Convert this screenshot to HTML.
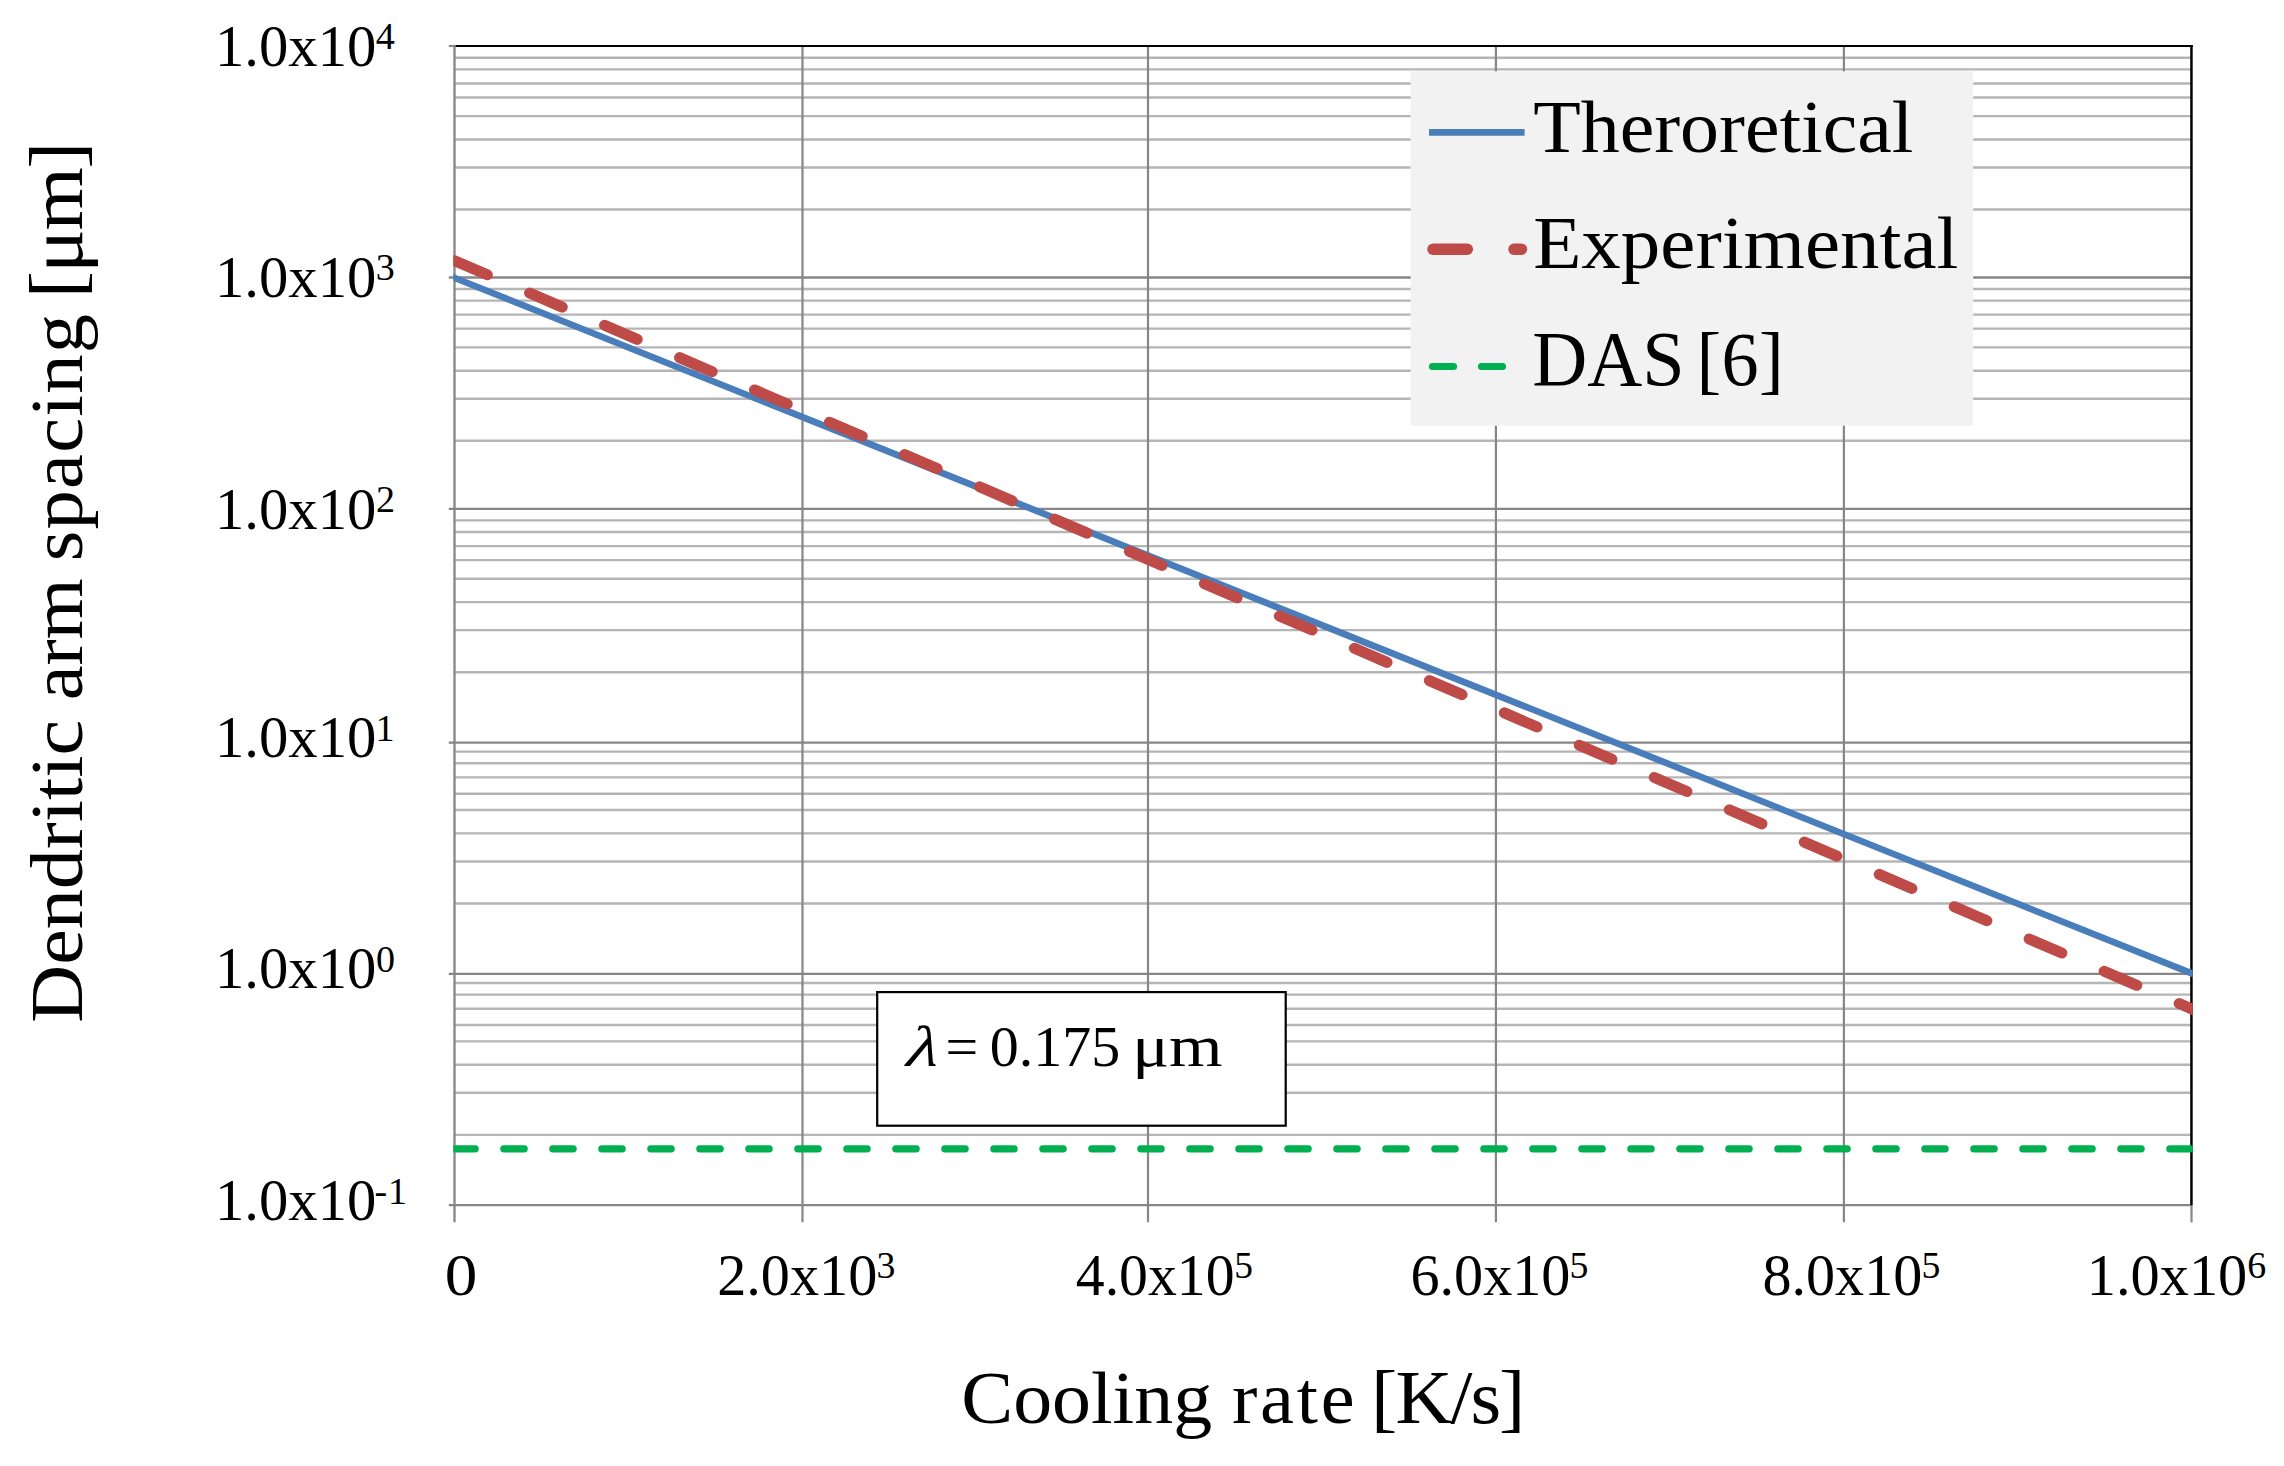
<!DOCTYPE html>
<html lang="en"><head><meta charset="utf-8"><title>Dendritic arm spacing vs cooling rate</title>
<style>
html,body{margin:0;padding:0;background:#fff}
svg{display:block}
text{font-family:'Liberation Serif',serif;fill:#000}
</style></head>
<body>
<svg width="2284" height="1466" viewBox="0 0 2284 1466">
<rect width="2284" height="1466" fill="#fff"/>
<defs><clipPath id="pc"><rect x="453.3" y="0" width="1739.50" height="1466"/></clipPath></defs>
<g id="grid" shape-rendering="auto">
<line x1="454.5" x2="2191.5" y1="57.73" y2="57.73" stroke="#b5b5b5" stroke-width="2.4"/>
<line x1="454.5" x2="2191.5" y1="69.41" y2="69.41" stroke="#b5b5b5" stroke-width="2.4"/>
<line x1="454.5" x2="2191.5" y1="83.43" y2="83.43" stroke="#b5b5b5" stroke-width="2.4"/>
<line x1="454.5" x2="2191.5" y1="97.44" y2="97.44" stroke="#b5b5b5" stroke-width="2.4"/>
<line x1="454.5" x2="2191.5" y1="116.13" y2="116.13" stroke="#b5b5b5" stroke-width="2.4"/>
<line x1="454.5" x2="2191.5" y1="139.49" y2="139.49" stroke="#b5b5b5" stroke-width="2.4"/>
<line x1="454.5" x2="2191.5" y1="167.52" y2="167.52" stroke="#b5b5b5" stroke-width="2.4"/>
<line x1="454.5" x2="2191.5" y1="209.57" y2="209.57" stroke="#b5b5b5" stroke-width="2.4"/>
<line x1="454.5" x2="2191.5" y1="288.93" y2="288.93" stroke="#b5b5b5" stroke-width="2.4"/>
<line x1="454.5" x2="2191.5" y1="300.61" y2="300.61" stroke="#b5b5b5" stroke-width="2.4"/>
<line x1="454.5" x2="2191.5" y1="314.63" y2="314.63" stroke="#b5b5b5" stroke-width="2.4"/>
<line x1="454.5" x2="2191.5" y1="328.64" y2="328.64" stroke="#b5b5b5" stroke-width="2.4"/>
<line x1="454.5" x2="2191.5" y1="347.33" y2="347.33" stroke="#b5b5b5" stroke-width="2.4"/>
<line x1="454.5" x2="2191.5" y1="370.69" y2="370.69" stroke="#b5b5b5" stroke-width="2.4"/>
<line x1="454.5" x2="2191.5" y1="398.72" y2="398.72" stroke="#b5b5b5" stroke-width="2.4"/>
<line x1="454.5" x2="2191.5" y1="440.77" y2="440.77" stroke="#b5b5b5" stroke-width="2.4"/>
<line x1="454.5" x2="2191.5" y1="520.38" y2="520.38" stroke="#b5b5b5" stroke-width="2.4"/>
<line x1="454.5" x2="2191.5" y1="532.06" y2="532.06" stroke="#b5b5b5" stroke-width="2.4"/>
<line x1="454.5" x2="2191.5" y1="546.08" y2="546.08" stroke="#b5b5b5" stroke-width="2.4"/>
<line x1="454.5" x2="2191.5" y1="560.09" y2="560.09" stroke="#b5b5b5" stroke-width="2.4"/>
<line x1="454.5" x2="2191.5" y1="578.78" y2="578.78" stroke="#b5b5b5" stroke-width="2.4"/>
<line x1="454.5" x2="2191.5" y1="602.14" y2="602.14" stroke="#b5b5b5" stroke-width="2.4"/>
<line x1="454.5" x2="2191.5" y1="630.17" y2="630.17" stroke="#b5b5b5" stroke-width="2.4"/>
<line x1="454.5" x2="2191.5" y1="672.22" y2="672.22" stroke="#b5b5b5" stroke-width="2.4"/>
<line x1="454.5" x2="2191.5" y1="751.64" y2="751.64" stroke="#b5b5b5" stroke-width="2.4"/>
<line x1="454.5" x2="2191.5" y1="763.32" y2="763.32" stroke="#b5b5b5" stroke-width="2.4"/>
<line x1="454.5" x2="2191.5" y1="777.34" y2="777.34" stroke="#b5b5b5" stroke-width="2.4"/>
<line x1="454.5" x2="2191.5" y1="793.69" y2="793.69" stroke="#b5b5b5" stroke-width="2.4"/>
<line x1="454.5" x2="2191.5" y1="810.04" y2="810.04" stroke="#b5b5b5" stroke-width="2.4"/>
<line x1="454.5" x2="2191.5" y1="833.40" y2="833.40" stroke="#b5b5b5" stroke-width="2.4"/>
<line x1="454.5" x2="2191.5" y1="861.44" y2="861.44" stroke="#b5b5b5" stroke-width="2.4"/>
<line x1="454.5" x2="2191.5" y1="903.48" y2="903.48" stroke="#b5b5b5" stroke-width="2.4"/>
<line x1="454.5" x2="2191.5" y1="982.99" y2="982.99" stroke="#b5b5b5" stroke-width="2.4"/>
<line x1="454.5" x2="2191.5" y1="994.67" y2="994.67" stroke="#b5b5b5" stroke-width="2.4"/>
<line x1="454.5" x2="2191.5" y1="1008.69" y2="1008.69" stroke="#b5b5b5" stroke-width="2.4"/>
<line x1="454.5" x2="2191.5" y1="1025.04" y2="1025.04" stroke="#b5b5b5" stroke-width="2.4"/>
<line x1="454.5" x2="2191.5" y1="1041.39" y2="1041.39" stroke="#b5b5b5" stroke-width="2.4"/>
<line x1="454.5" x2="2191.5" y1="1064.75" y2="1064.75" stroke="#b5b5b5" stroke-width="2.4"/>
<line x1="454.5" x2="2191.5" y1="1092.79" y2="1092.79" stroke="#b5b5b5" stroke-width="2.4"/>
<line x1="454.5" x2="2191.5" y1="1134.83" y2="1134.83" stroke="#b5b5b5" stroke-width="2.4"/>
<line x1="448.8" x2="2191.5" y1="277.5" y2="277.5" stroke="#868686" stroke-width="2.3"/>
<line x1="448.8" x2="2191.5" y1="508.95" y2="508.95" stroke="#868686" stroke-width="2.3"/>
<line x1="448.8" x2="2191.5" y1="742.55" y2="742.55" stroke="#868686" stroke-width="2.3"/>
<line x1="448.8" x2="2191.5" y1="973.9" y2="973.9" stroke="#868686" stroke-width="2.3"/>
<line x1="802.5" x2="802.5" y1="46.3" y2="1222.3500000000001" stroke="#868686" stroke-width="2.2"/>
<line x1="1148.0" x2="1148.0" y1="46.3" y2="1222.3500000000001" stroke="#868686" stroke-width="2.2"/>
<line x1="1495.9" x2="1495.9" y1="46.3" y2="1222.3500000000001" stroke="#868686" stroke-width="2.2"/>
<line x1="1843.9" x2="1843.9" y1="46.3" y2="1222.3500000000001" stroke="#868686" stroke-width="2.2"/>
<line x1="454.5" x2="454.5" y1="45.3" y2="1222.3500000000001" stroke="#868686" stroke-width="2.3"/>
<line x1="448.8" x2="2191.5" y1="1205.15" y2="1205.15" stroke="#868686" stroke-width="2.3"/>
<line x1="2191.5" x2="2191.5" y1="1205.15" y2="1222.3500000000001" stroke="#868686" stroke-width="2.2"/>
<line x1="448.8" x2="455.7" y1="46.0" y2="46.0" stroke="#868686" stroke-width="2.1"/>
</g>
<g id="borders">
<line x1="455.7" x2="2192.7" y1="46.0" y2="46.0" stroke="#000" stroke-width="2.1"/>
<line x1="2191.45" x2="2191.45" y1="44.95" y2="1205.15" stroke="#000" stroke-width="2.5"/>
</g>
<g id="series" clip-path="url(#pc)">
<line x1="450" y1="276.0" x2="2196.5" y2="975.3" stroke="#4a7ebb" stroke-width="6.6"/>
<line x1="454.6" y1="260.7" x2="2196.6" y2="1011.1" stroke="#be4b48" stroke-width="11" stroke-linecap="round" stroke-dasharray="35.6 46.04"/>
<line x1="454.8" y1="1148.8" x2="2191.5" y2="1148.8" stroke="#00b050" stroke-width="7.2" stroke-linecap="round" stroke-dasharray="20.4 28.6"/>
</g>
<g id="legend">
<rect x="1410.6" y="71.3" width="562.6" height="354.4" fill="#f2f2f2"/>
<line x1="1429" x2="1524.6" y1="132.4" y2="132.4" stroke="#4a7ebb" stroke-width="6.6"/>
<line x1="1433" x2="1467.3" y1="249.2" y2="249.2" stroke="#be4b48" stroke-width="11.5" stroke-linecap="round"/>
<line x1="1514" x2="1521.5" y1="249.2" y2="249.2" stroke="#be4b48" stroke-width="11.5" stroke-linecap="round"/>
<line x1="1432.5" x2="1453.5" y1="366.5" y2="366.5" stroke="#00b050" stroke-width="7.2" stroke-linecap="round"/>
<line x1="1481.5" x2="1502.5" y1="366.5" y2="366.5" stroke="#00b050" stroke-width="7.2" stroke-linecap="round"/>
<rect x="877.2" y="992.1" width="408.5" height="133.6" fill="#fff" stroke="#000" stroke-width="2.2"/>
</g>
<g id="labels">
<g transform="translate(215.04 65.60) scale(1.0026 1)"><text font-size="58.5"><tspan x="-0.00">1.0x10</tspan><tspan x="160.35" y="-16.30" font-size="38">4</tspan></text></g>
<g transform="translate(215.04 296.60) scale(1.0026 1)"><text font-size="58.5"><tspan x="-0.00">1.0x10</tspan><tspan x="160.35" y="-16.30" font-size="38">3</tspan></text></g>
<g transform="translate(215.04 528.50) scale(1.0026 1)"><text font-size="58.5"><tspan x="-0.00">1.0x10</tspan><tspan x="160.60" y="-16.30" font-size="38">2</tspan></text></g>
<g transform="translate(215.04 757.30) scale(1.0026 1)"><text font-size="58.5"><tspan x="-0.00">1.0x10</tspan><tspan x="160.02" y="-16.30" font-size="38">1</tspan></text></g>
<g transform="translate(215.04 988.40) scale(1.0026 1)"><text font-size="58.5"><tspan x="-0.00">1.0x10</tspan><tspan x="160.47" y="-16.30" font-size="38">0</tspan></text></g>
<g transform="translate(215.04 1220.20) scale(1.0026 1)"><text font-size="58.5"><tspan x="-0.00">1.0x10</tspan><tspan x="159.05" y="-16.30" font-size="38" letter-spacing="0.875">-1</tspan></text></g>
<g transform="translate(444.79 1294.60) scale(1.1152 1)"><text font-size="58.5">0</text></g>
<g transform="translate(717.21 1294.60) scale(0.9952 1)"><text font-size="58.5"><tspan x="0.00">2.0x10</tspan><tspan x="160.18" y="-16.30" font-size="38">3</tspan></text></g>
<g transform="translate(1075.77 1294.60) scale(0.9873 1)"><text font-size="58.5"><tspan x="0.00">4.0x10</tspan><tspan x="160.52" y="-16.30" font-size="38">5</tspan></text></g>
<g transform="translate(1410.41 1294.60) scale(0.9952 1)"><text font-size="58.5"><tspan x="0.00">6.0x10</tspan><tspan x="159.83" y="-16.30" font-size="38">5</tspan></text></g>
<g transform="translate(1762.46 1294.60) scale(0.9936 1)"><text font-size="58.5"><tspan x="-0.00">8.0x10</tspan><tspan x="160.05" y="-16.30" font-size="38">5</tspan></text></g>
<g transform="translate(2086.76 1294.60) scale(0.9980 1)"><text font-size="58.5"><tspan x="-0.00">1.0x10</tspan><tspan x="160.77" y="-16.30" font-size="38">6</tspan></text></g>
<g transform="translate(961.29 1423.40) scale(1.0377 1)"><text font-size="75"><tspan x="-0.00">Cooling</tspan> <tspan x="260.82" font-size="73.5" letter-spacing="2.666">rate</tspan> <tspan x="394.95" font-size="76" letter-spacing="-1.882">[K/s]</tspan></text></g>
<g transform="translate(81.90 1022.81) rotate(-90) scale(1.0701 1)"><text font-size="75"><tspan x="-0.00">Dendritic</tspan> <tspan x="301.39" font-size="73.5" letter-spacing="-0.163">arm</tspan> <tspan x="431.44" font-size="73.5" letter-spacing="1.070">spacing</tspan> <tspan x="677.16" font-size="76" letter-spacing="-1.417">[μm]</tspan></text></g>
<g transform="translate(1533.20 152.40) scale(1.0378 1)"><text font-size="75">Theroretical</text></g>
<g transform="translate(1533.13 268.40) scale(1.0531 1)"><text font-size="75">Experimental</text></g>
<g transform="translate(1532.20 385.00) scale(0.9779 1)"><text font-size="78"><tspan x="0.00">DAS</tspan> <tspan x="167.90" font-size="76" letter-spacing="0.389">[6]</tspan></text></g>
<g transform="translate(902.21 1066.30) scale(1.1925 1)"><text font-size="58" transform="skewX(-15)">λ</text></g>
<g transform="translate(944.30 1066.30) scale(0.9992 1)"><text font-size="58"><tspan x="1.11">=</tspan> <tspan x="45.49">0.175</tspan></text></g>
<g transform="translate(1132.15 1066.30) scale(1.1468 1)"><text font-size="60">μm</text></g>
</g>
</svg>
</body></html>
